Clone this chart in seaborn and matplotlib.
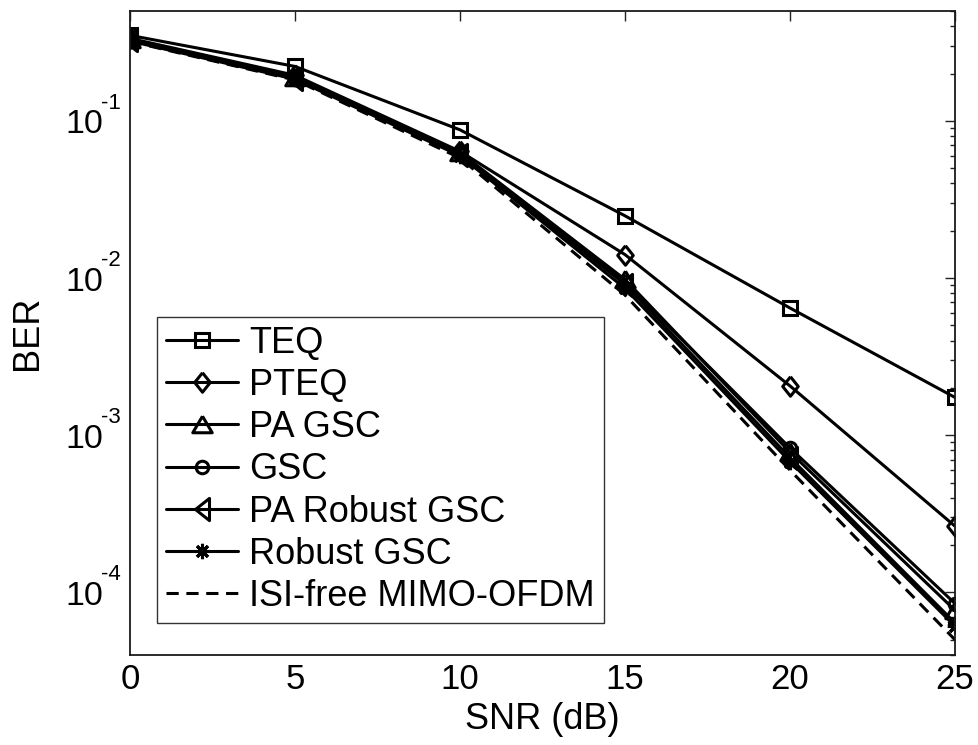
import matplotlib
matplotlib.use("Agg")
import matplotlib.pyplot as plt
import seaborn as sns
import pandas as pd
from matplotlib.ticker import LogLocator, FixedLocator, NullFormatter

snr_db = [0, 5, 10, 15, 20, 25]

teq = [0.35, 0.222, 0.0877, 0.0249, 0.00645, 0.00174]
pteq = [0.335, 0.195, 0.064, 0.0141, 0.00206, 0.000264]
pa_gsc = [0.33, 0.19, 0.063, 0.0098, 0.00078, 0.000077]
gsc = [0.328, 0.188, 0.062, 0.0094, 0.00083, 0.000085]
pa_robust_gsc = [0.325, 0.186, 0.061, 0.0091, 0.00072, 0.000064]
robust_gsc = [0.322, 0.184, 0.060, 0.0086, 0.00068, 0.000061]
isi_free = [0.32, 0.182, 0.058, 0.0078, 0.00060, 0.000050]

series_names = ["TEQ", "PTEQ", "PA GSC", "GSC", "PA Robust GSC",
                "Robust GSC", "ISI-free MIMO-OFDM"]
series_values = [teq, pteq, pa_gsc, gsc, pa_robust_gsc, robust_gsc, isi_free]

y_decades = [-4, -3, -2, -1]

sns.set_style("white")
plt.rcParams["font.family"] = ["Liberation Sans", "DejaVu Sans"]
plt.rcParams["text.color"] = "black"
plt.rcParams["axes.labelcolor"] = "black"
plt.rcParams["xtick.color"] = "black"
plt.rcParams["ytick.color"] = "black"
plt.rcParams["axes.unicode_minus"] = False

df = pd.DataFrame(
    [(name, x, y) for name, vals in zip(series_names, series_values)
     for x, y in zip(snr_db, vals)],
    columns=["series", "snr", "ber"],
)

# marker shapes: tall diamond, wide up-triangle, tall left-triangle
diamond = [(0, 1), (0.8, 0), (0, -1), (-0.8, 0), (0, 1)]
tri_up = [(0, 0.85), (1, -0.85), (-1, -0.85), (0, 0.85)]
tri_left = [(-0.63, 0), (0.63, 1), (0.63, -1), (-0.63, 0)]

styles = {
    "TEQ": dict(marker="s", ms=10, ls="-"),
    "PTEQ": dict(marker=diamond, ms=14, ls="-"),
    "PA GSC": dict(marker=tri_up, ms=14, ls="-"),
    "GSC": dict(marker="o", ms=9, ls="-"),
    "PA Robust GSC": dict(marker=tri_left, ms=16, ls="-"),
    "Robust GSC": dict(marker=(8, 2, 0), ms=11, ls="-"),
    "ISI-free MIMO-OFDM": dict(marker="None", ms=0, ls=(0, (4, 2.5))),
}

fig = plt.figure(figsize=(9.79, 7.45), dpi=100)
ax = fig.add_axes([130 / 979, 90 / 745, 825 / 979, 644 / 745])

for name in series_names:
    st = styles[name]
    sub = df[df["series"] == name]
    sns.lineplot(data=sub, x="snr", y="ber", ax=ax, color="black",
                 linewidth=2.2, linestyle=st["ls"], marker=st["marker"],
                 markersize=st["ms"], markerfacecolor="none",
                 markeredgecolor="black", markeredgewidth=2.2,
                 label=name, legend=False, errorbar=None)

ax.set_yscale("log")
ax.set_xlim(0, 25)
ax.set_ylim(4e-5, 0.5)
ax.set_xticks(snr_db)
ax.yaxis.set_major_locator(FixedLocator([10.0 ** d for d in y_decades]))
ax.yaxis.set_major_formatter(NullFormatter())
ax.yaxis.set_minor_locator(LogLocator(base=10, subs=range(2, 10), numticks=20))
ax.yaxis.set_minor_formatter(NullFormatter())

ax.tick_params(axis="both", which="both", direction="in", top=True,
               right=True, width=1.0, color="#222222")
ax.tick_params(which="major", length=7)
ax.tick_params(which="minor", length=3.8)
ax.tick_params(axis="x", labelsize=25, pad=6)
for sp in ax.spines.values():
    sp.set_linewidth(1.3)
    sp.set_color("#1a1a1a")

# decade labels drawn as "10" with a raised exponent
for d in y_decades:
    ax.annotate("10", xy=(0, 10.0 ** d), xycoords=("axes fraction", "data"),
                xytext=(-27, -12.5), textcoords="offset pixels",
                ha="right", va="baseline", fontsize=24.5)
    ax.annotate(f"{d}", xy=(0, 10.0 ** d), xycoords=("axes fraction", "data"),
                xytext=(-29, 12), textcoords="offset pixels",
                ha="left", va="baseline", fontsize=16)

ax.set_xlabel("SNR (dB)", fontsize=26)
ax.xaxis.set_label_coords(0.5, -0.073)
ax.set_ylabel("BER", fontsize=26)
ax.yaxis.set_label_coords(-0.103, 0.5)

leg = ax.legend(loc="lower left", bbox_to_anchor=(27 / 825, 32 / 644),
                fontsize=26, frameon=True, fancybox=False, edgecolor="black",
                handlelength=2.0, handletextpad=0.3, labelspacing=0.2,
                borderpad=0.25, borderaxespad=0)
leg.get_frame().set_linewidth(1.0)

fig.savefig("out.png", dpi=100)
